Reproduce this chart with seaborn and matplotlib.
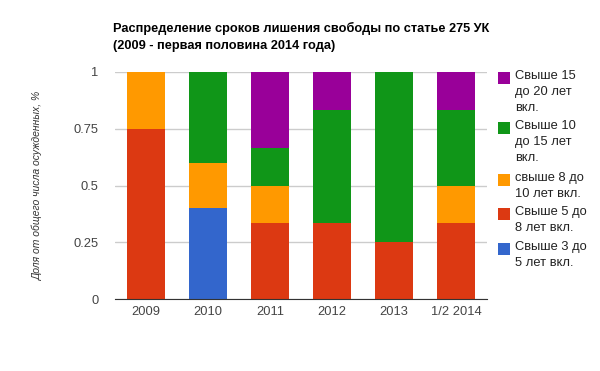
import matplotlib
matplotlib.use("Agg")
import matplotlib.pyplot as plt
import seaborn as sns
import numpy as np
from matplotlib.patches import Rectangle

# данные
years = ['2009', '2010', '2011', '2012', '2013', '1/2 2014']
s_3_5 = [0, 0.4, 0, 0, 0, 0]
s_5_8 = [0.75, 0, 0.333, 0.333, 0.25, 0.333]
s_8_10 = [0.25, 0.2, 0.167, 0, 0, 0.167]
s_10_15 = [0, 0.4, 0.167, 0.5, 0.75, 0.333]
s_15_20 = [0, 0, 0.333, 0.167, 0, 0.167]

series = [s_3_5, s_5_8, s_8_10, s_10_15, s_15_20]
labels = ['Свыше 3 до\n5 лет вкл.',
          'Свыше 5 до\n8 лет вкл.',
          'свыше 8 до\n10 лет вкл.',
          'Свыше 10\nдо 15 лет\nвкл.',
          'Свыше 15\nдо 20 лет\nвкл.']
colors = ['#3366cc', '#dc3912', '#ff9900', '#109618', '#990099']

sns.set_style('white')
plt.rcParams['font.family'] = ['Liberation Sans', 'DejaVu Sans']

fig = plt.figure(figsize=(6, 3.71), dpi=100)
ax = fig.add_axes([115 / 600, 1 - 299 / 371, 372 / 600, 227 / 371])

bottom = np.zeros(len(years))
for vals, col in zip(series, colors):
    sns.barplot(x=years, y=vals, bottom=bottom, color=col, width=0.61,
                saturation=1, linewidth=0, ax=ax)
    bottom += np.array(vals)

ax.set_xlim(-0.5, len(years) - 0.5)
ax.set_ylim(0, 1)
ax.set_yticks([0, 0.25, 0.5, 0.75, 1])
ax.set_yticklabels(['0', '0.25', '0.5', '0.75', '1'])
ax.yaxis.grid(True, color='#cccccc', linewidth=1)
ax.set_axisbelow(True)
for s in ['top', 'right', 'left']:
    ax.spines[s].set_visible(False)
ax.spines['bottom'].set_color('#333333')
ax.tick_params(axis='both', length=0, labelsize=9.3, colors='#444444')
ax.tick_params(axis='y', pad=12)
ax.tick_params(axis='x', pad=5)
ax.set_xlabel('')
ax.set_ylabel('Доля от общего числа осужденных, %', fontsize=7.5,
              style='italic', color='#333333', labelpad=22)

fig.text(113 / 600, 1 - 37 / 371,
         'Распределение сроков лишения свободы по статье 275 УК\n(2009 - первая половина 2014 года)',
         fontsize=9.2, fontweight='bold', color='#000000', va='center',
         linespacing=1.45)

# легенда справа
leg_y = [78, 128, 180, 214, 249]
for y, lab, col in zip(leg_y, labels[::-1], colors[::-1]):
    fig.patches.append(Rectangle((498 / 600, 1 - (y + 6) / 371), 12 / 600, 12 / 371,
                                 transform=fig.transFigure, facecolor=col,
                                 edgecolor='none'))
    fig.text(515 / 600, 1 - (y - 8) / 371, lab, fontsize=9.3, color='#222222',
             va='top', linespacing=1.42)

fig.savefig('out.png', dpi=100)
